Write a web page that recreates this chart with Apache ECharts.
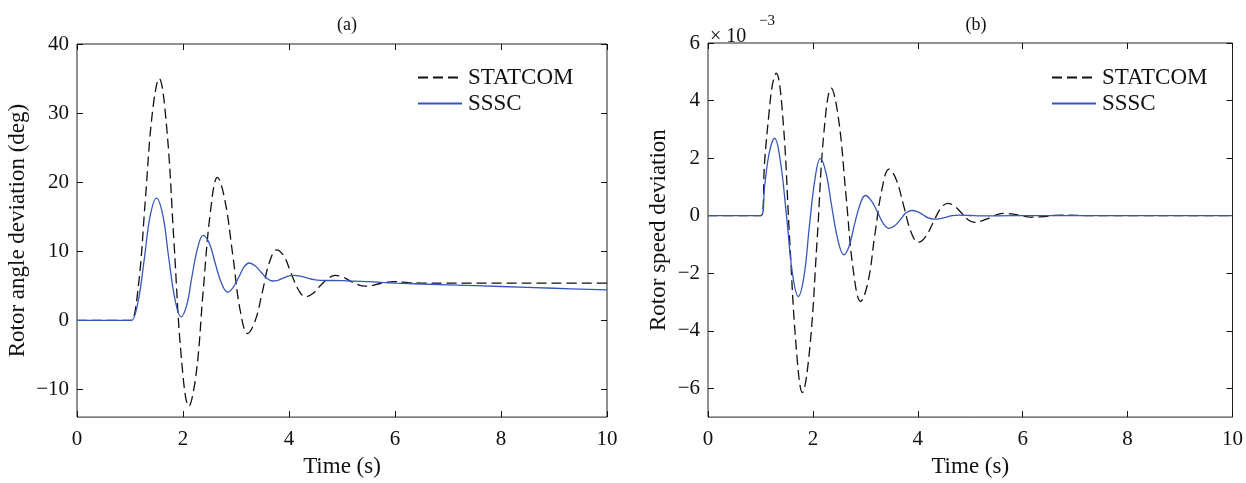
<!DOCTYPE html>
<html>
<head>
<meta charset="utf-8">
<script src="https://cdn.jsdelivr.net/npm/echarts@6/dist/echarts.min.js"></script>
<style>
  html, body { margin: 0; padding: 0; background: #fff; }
  #chart { width: 1246px; height: 483px; }
</style>
</head>
<body>
<div id="chart"></div>
<script>
// (a) rotor angle deviation, deg
const timeAngleStatcom = [0, 1.0, 1.03, 1.16, 1.29, 1.42, 1.55, 1.69, 1.83, 1.97, 2.11, 2.25, 2.38, 2.52, 2.65, 2.79, 2.94, 3.08, 3.22, 3.36, 3.50, 3.63, 3.77, 3.91, 4.04, 4.18, 4.31, 4.45, 4.59, 4.73, 4.87, 5.01, 5.15, 5.29, 5.43, 5.57, 5.70, 5.84, 5.97, 6.25, 6.5, 7, 8, 9, 10];
const angleStatcom = [0, 0, 0, 5.1, 17.5, 29.9, 35, 28.1, 11.3, -5.5, -12.4, -7.6, 4.2, 15.9, 20.7, 17.4, 9.4, 1.4, -1.9, -0.1, 4.2, 8.4, 10.2, 9.2, 6.8, 4.4, 3.4, 3.9, 5.0, 6.0, 6.5, 6.3, 5.7, 5.2, 4.95, 5.05, 5.3, 5.5, 5.6, 5.45, 5.4, 5.4, 5.4, 5.4, 5.4];
const timeAngleSssc = [0, 1.0, 1.03, 1.15, 1.27, 1.38, 1.50, 1.62, 1.73, 1.85, 1.96, 2.07, 2.17, 2.28, 2.38, 2.50, 2.61, 2.73, 2.84, 2.94, 3.05, 3.15, 3.25, 3.36, 3.47, 3.58, 3.69, 3.79, 3.89, 3.98, 4.08, 4.21, 4.34, 4.47, 4.6, 5.0, 5.5, 6, 7, 8, 9, 10];
const angleSssc = [0, 0, 0, 2.6, 8.9, 15.1, 17.7, 15.2, 9.1, 3.0, 0.5, 2.2, 6.4, 10.6, 12.3, 11.1, 8.2, 5.3, 4.1, 4.7, 6.2, 7.7, 8.3, 7.9, 7.0, 6.1, 5.7, 5.8, 6.1, 6.4, 6.5, 6.4, 6.15, 5.9, 5.8, 5.75, 5.6, 5.4, 5.15, 4.9, 4.65, 4.4];

// (b) rotor speed deviation, x 10^-3
const timeSpeedStatcom = [0, 1.01, 1.08, 1.16, 1.23, 1.30, 1.43, 1.55, 1.68, 1.80, 1.94, 2.08, 2.21, 2.35, 2.49, 2.63, 2.77, 2.91, 3.05, 3.18, 3.32, 3.45, 3.59, 3.73, 3.87, 4.01, 4.15, 4.29, 4.43, 4.57, 4.70, 4.83, 4.95, 5.08, 5.22, 5.37, 5.51, 5.65, 5.79, 5.93, 6.06, 6.2, 6.34, 6.48, 6.61, 6.75, 7.3, 8, 9, 10];
const speedStatcom = [0, 0, 1.9, 3.5, 4.57, 4.95, 3.33, -0.6, -4.53, -6.15, -4.61, -0.86, 2.89, 4.43, 3.35, 0.73, -1.9, -2.98, -2.31, -0.68, 0.95, 1.62, 1.25, 0.35, -0.56, -0.93, -0.73, -0.25, 0.23, 0.43, 0.33, 0.1, -0.13, -0.23, -0.18, -0.08, 0.04, 0.08, 0.06, 0.02, -0.03, -0.05, -0.04, -0.02, 0.01, 0.02, 0, 0, 0, 0];
const timeSpeedSssc = [0, 1.01, 1.08, 1.14, 1.21, 1.27, 1.38, 1.50, 1.61, 1.72, 1.83, 1.93, 2.04, 2.14, 2.25, 2.36, 2.48, 2.59, 2.69, 2.79, 2.90, 3.00, 3.11, 3.23, 3.34, 3.45, 3.56, 3.67, 3.77, 3.88, 3.99, 4.10, 4.20, 4.31, 4.43, 4.55, 4.66, 4.78, 5.0, 5.2, 5.8, 7, 10];
const speedSssc = [0, 0, 1.03, 1.9, 2.49, 2.69, 1.89, -0.06, -2.01, -2.81, -2.11, -0.42, 1.28, 1.98, 1.49, 0.31, -0.87, -1.36, -1.06, -0.33, 0.4, 0.7, 0.53, 0.13, -0.27, -0.44, -0.35, -0.13, 0.09, 0.18, 0.14, 0.03, -0.08, -0.12, -0.1, -0.05, 0, 0.02, 0.005, -0.01, 0, 0, 0];

// tick values
const timeTicks = [0, 2, 4, 6, 8, 10];
const angleTicks = [-10, 0, 10, 20, 30, 40];
const speedTicks = [-6, -4, -2, 0, 2, 4, 6];

const FONT = 'Liberation Serif';
const INK = '#111';
const BLUE = '#3556bd';

function pairs(ts, vs) { return ts.map((t, i) => [t, vs[i]]); }
function minusSign(v) { return String(v).replace('-', '\u2212'); }

const chart = echarts.init(document.getElementById('chart'), null, { renderer: 'canvas' });

const grids = [
  { left: 77, top: 44, width: 530, height: 374 },
  { left: 708, top: 43, width: 526, height: 379 }
];

const tickStyle = { color: INK, width: 1 };

function xAxes(gridIndex) {
  const common = {
    type: 'value', gridIndex, min: 0, max: 10,
    axisLine: { show: false, onZero: false }, splitLine: { show: false }
  };
  return [
    Object.assign({}, common, {
      position: 'bottom',
      name: 'Time (s)', nameLocation: 'middle', nameGap: 35,
      nameTextStyle: { fontFamily: FONT, fontSize: 23, color: INK },
      axisTick: { inside: true, length: 6, customValues: timeTicks, lineStyle: tickStyle },
      axisLabel: { customValues: timeTicks, margin: 12, fontFamily: FONT, fontSize: 21, color: INK }
    }),
    Object.assign({}, common, {
      position: 'top',
      axisTick: { inside: true, length: 6, customValues: timeTicks, lineStyle: tickStyle },
      axisLabel: { show: false }
    })
  ];
}

function yAxes(gridIndex, min, max, ticks, name, gap) {
  const common = {
    type: 'value', gridIndex, min, max,
    axisLine: { show: false, onZero: false }, splitLine: { show: false }
  };
  return [
    Object.assign({}, common, {
      position: 'left',
      name, nameLocation: 'middle', nameGap: gap,
      nameTextStyle: { fontFamily: FONT, fontSize: 23, color: INK },
      axisTick: { inside: true, length: 6, customValues: ticks, lineStyle: tickStyle },
      axisLabel: { customValues: ticks, margin: 8, fontFamily: FONT, fontSize: 21, color: INK, formatter: minusSign }
    }),
    Object.assign({}, common, {
      position: 'right',
      axisTick: { inside: true, length: 6, customValues: ticks, lineStyle: tickStyle },
      axisLabel: { show: false }
    })
  ];
}

const dashStyle = { color: INK, width: 1.3, type: [10, 5] };
const solidStyle = { color: BLUE, width: 1.3 };

function lineSeries(name, data, xi, yi, style) {
  return {
    type: 'line', name, data, xAxisIndex: xi, yAxisIndex: yi,
    showSymbol: false, symbol: 'none', smooth: 0.4, animation: false,
    color: style.color, lineStyle: style
  };
}

// legend keys show only the line sample; the marker is made invisible
function legendAt(left, top) {
  return {
    left, top, orient: 'vertical', itemWidth: 44, itemHeight: 14, itemGap: 3,
    itemStyle: { opacity: 0 },
    data: ['STATCOM', 'SSSC'],
    textStyle: { fontFamily: FONT, fontSize: 23, color: INK, padding: [0, 0, 0, 1] }
  };
}

const option = {
  backgroundColor: '#fff',
  animation: false,
  title: [
    { text: '(a)', left: 342, top: 11, textAlign: 'center', textStyle: { fontFamily: FONT, fontSize: 18, fontWeight: 'normal', color: INK } },
    { text: '(b)', left: 971, top: 11, textAlign: 'center', textStyle: { fontFamily: FONT, fontSize: 18, fontWeight: 'normal', color: INK } }
  ],
  grid: grids.map(g => Object.assign({ show: true, borderColor: '#222', borderWidth: 1, backgroundColor: 'transparent' }, g)),
  legend: [legendAt(412, 61), legendAt(1046, 61)],
  xAxis: [...xAxes(0), ...xAxes(1)],
  yAxis: [
    ...yAxes(0, -14, 40, angleTicks, 'Rotor angle deviation (deg)', 48),
    ...yAxes(1, -7, 6, speedTicks, 'Rotor speed deviation', 38)
  ],
  series: [
    lineSeries('STATCOM', pairs(timeAngleStatcom, angleStatcom), 0, 0, dashStyle),
    lineSeries('SSSC', pairs(timeAngleSssc, angleSssc), 0, 0, solidStyle),
    lineSeries('STATCOM', pairs(timeSpeedStatcom, speedStatcom), 2, 2, dashStyle),
    lineSeries('SSSC', pairs(timeSpeedSssc, speedSssc), 2, 2, solidStyle)
  ],
  graphic: [
    { type: 'text', left: 710, top: 27, style: { text: '\u00d7 10', fontFamily: FONT, fontSize: 20, fill: INK } },
    { type: 'text', left: 759, top: 14, style: { text: '\u22123', fontFamily: FONT, fontSize: 15, fill: INK } }
  ]
};

chart.setOption(option);
</script>
</body>
</html>
